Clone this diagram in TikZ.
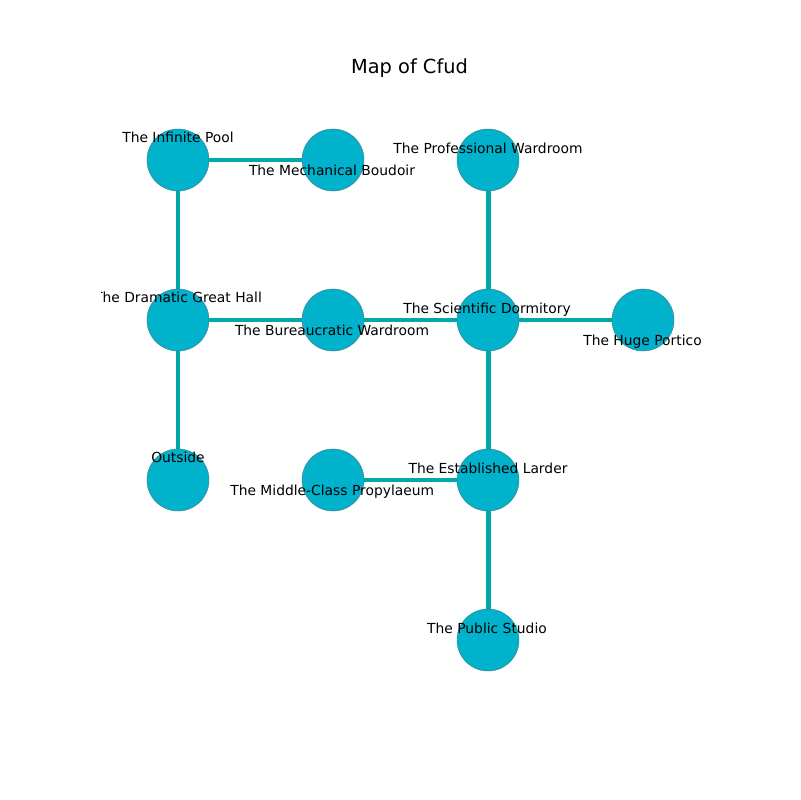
\documentclass[tikz,border=0pt]{standalone}
\usepackage{fontspec}
\setmainfont{DejaVu Sans}
\definecolor{nodefill}{RGB}{0,178,204}
\definecolor{edgecol}{RGB}{0,168,168}
\definecolor{nodeline}{RGB}{70,120,130}
\pgfdeclarelayer{bg}
\pgfsetlayers{bg,main}
\begin{document}
\begin{tikzpicture}[x=0.01in,y=-0.01in,
  room/.style={circle,fill=nodefill,draw=nodeline,line width=0.3pt,minimum size=0.62in,inner sep=0pt},
  link/.style={draw=edgecol,line width=3.6pt},
  lab/.style={font=\fontsize{10}{12}\selectfont,inner sep=0pt,anchor=base}]
\useasboundingbox (0,0) rectangle (800,800);
\node[font=\fontsize{14}{16}\selectfont,inner sep=0pt,anchor=base] (title) at (409.5,73.3) {Map of Cfud};
% nodes
\node[room] (ip) at (178,160) {};
\node[room] (mb) at (333,160) {};
\node[room] (pw) at (488,160) {};
\node[room] (dg) at (178,320) {};
\node[room] (bw) at (333,320) {};
\node[room] (sd) at (488,320) {};
\node[room] (hp) at (643,320) {};
\node[room] (os) at (178,480) {};
\node[room] (mc) at (333,480) {};
\node[room] (el) at (488,480) {};
\node[room] (ps) at (488,640) {};
% edges (behind nodes)
\begin{pgfonlayer}{bg}
\draw[link] (ip) -- (mb);
\draw[link] (ip) -- (dg);
\draw[link] (dg) -- (bw);
\draw[link] (dg) -- (os);
\draw[link] (bw) -- (sd);
\draw[link] (pw) -- (sd);
\draw[link] (sd) -- (hp);
\draw[link] (sd) -- (el);
\draw[link] (mc) -- (el);
\draw[link] (el) -- (ps);
\end{pgfonlayer}
% labels
\node[lab] (lip) at (178,142.3) {The Infinite Pool};
\node[lab] (lmb) at (332,175.3) {The Mechanical Boudoir};
\node[lab] (lpw) at (488,153.3) {The Professional Wardroom};
\begin{scope}
\clip (101.5,0) rectangle (800,800);
\node[lab] (ldg) at (178,302.3) {The Dramatic Great Hall};
\end{scope}
\node[lab] (lbw) at (332,335.3) {The Bureaucratic Wardroom};
\node[lab] (lsd) at (487,313.3) {The Scientific Dormitory};
\node[lab] (lhp) at (642.5,345.7) {The Huge Portico};
\node[lab] (los) at (178,462.3) {Outside};
\node[lab] (lmc) at (332.2,495.3) {The Middle-Class Propylaeum};
\node[lab] (lel) at (488,473.3) {The Established Larder};
\node[lab] (lps) at (487,633.3) {The Public Studio};
\end{tikzpicture}
\end{document}
